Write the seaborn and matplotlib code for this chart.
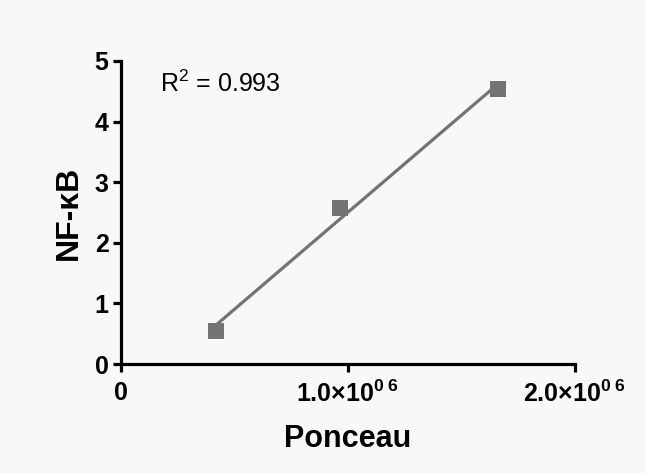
import matplotlib
matplotlib.use("Agg")
import matplotlib.pyplot as plt
import seaborn as sns
import numpy as np
import pandas as pd

# Data
ponceau = [0.419e6, 0.965e6, 1.66e6]
nfkb = [0.545, 2.57, 4.54]
x_ticks = [0, 1.0e6, 2.0e6]
x_tick_labels = ["0", "1.0\u00d710$^{\\mathbf{0\\ 6}}$", "2.0\u00d710$^{\\mathbf{0\\ 6}}$"]
y_ticks = [0, 1, 2, 3, 4, 5]
r2_text = "R$^{2}$ = 0.993"

sns.set_style("ticks")
plt.rcParams['font.family'] = ['Liberation Sans', 'DejaVu Sans']
plt.rcParams['mathtext.fontset'] = 'custom'
plt.rcParams['mathtext.rm'] = 'Liberation Sans'
plt.rcParams['mathtext.bf'] = 'Liberation Sans:bold'
plt.rcParams['mathtext.it'] = 'Liberation Sans:italic'
plt.rcParams['text.color'] = 'black'
plt.rcParams['axes.labelcolor'] = 'black'
plt.rcParams['xtick.color'] = 'black'
plt.rcParams['ytick.color'] = 'black'

bg = '#f8f8f8'
gray = '#737373'

df = pd.DataFrame({"Ponceau": ponceau, "NF-κB": nfkb})

fig = plt.figure(figsize=(6.46, 4.73), dpi=100, facecolor=bg)
ax = fig.add_axes([121/646, 1 - 364/473, (575-121)/646, (364-61)/473])
ax.set_facecolor(bg)

sns.regplot(data=df, x="Ponceau", y="NF-κB", ax=ax, ci=None, marker='s',
            color=gray,
            scatter_kws=dict(s=135, alpha=1, linewidths=0, zorder=3),
            line_kws=dict(linewidth=2.3, color=gray, zorder=2))

ax.set_xlim(0, 2.0e6)
ax.set_ylim(0, 5)
ax.set_xticks(x_ticks)
ax.set_xticklabels(x_tick_labels)
ax.set_yticks(y_ticks)
for lab in ax.get_xticklabels() + ax.get_yticklabels():
    lab.set_fontweight('bold')
    lab.set_fontsize(18)
    lab.set_color('black')

ax.set_xlabel("Ponceau", fontsize=22, fontweight='bold', labelpad=12, color='black')
ax.set_ylabel("NF-κB", fontsize=23, fontweight='bold', labelpad=8, color='black')

for side in ['top', 'right']:
    ax.spines[side].set_visible(False)
for side in ['left', 'bottom']:
    ax.spines[side].set_linewidth(2.3)
    ax.spines[side].set_color('black')
ax.tick_params(axis='both', direction='out', length=6, width=2.3, color='black',
               labelcolor='black', pad=3)
ax.tick_params(axis='x', pad=6)

ax.text(0.172e6, 4.62, r2_text, fontsize=18, ha='left', va='center', color='black')

fig.savefig("out.png", dpi=100, facecolor=bg)
